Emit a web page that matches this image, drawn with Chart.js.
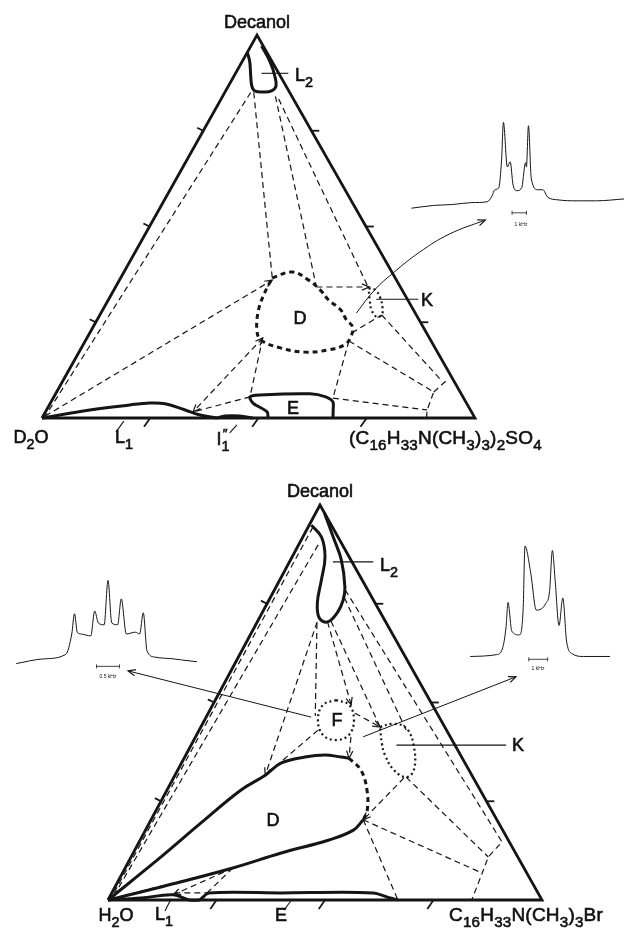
<!DOCTYPE html>
<html>
<head>
<meta charset="utf-8">
<script src="https://cdn.jsdelivr.net/npm/chart.js@4"></script>
<style>
  body { margin: 0; background: #fff; }
  #page { position: relative; width: 629px; height: 930px; overflow: hidden;
          font-family: "Liberation Sans", Arial, sans-serif; color: #111; }
  canvas { position: absolute; }
  .lbl { position: absolute; transform: translate(-50%, -50%); font-size: 18px; line-height: 1;
         white-space: nowrap; -webkit-text-stroke: 0.6px #111; }
  .lbl.start { transform: translate(0, -50%); }
  .lbl sub { font-size: 80%; vertical-align: -0.4em; }
  .lbl sup { font-size: 75%; vertical-align: 0.5em; }
  .formula { font-size: 19px; letter-spacing: 0.2px; }
  .tiny { font-size: 5px; -webkit-text-stroke: 0; }
</style>
</head>
<body>
<div id="page">
  <canvas id="so4-diagram"></canvas>
  <canvas id="so4-spectrum"></canvas>
  <canvas id="br-diagram"></canvas>
  <canvas id="br-spectrum-f"></canvas>
  <canvas id="br-spectrum-k"></canvas>

  <div class="lbl" style="left:257px;top:22px">Decanol</div>
  <div class="lbl start" style="left:295px;top:78px">L<sub>2</sub></div>
  <div class="lbl" style="left:427px;top:300px">K</div>
  <div class="lbl" style="left:300px;top:318px">D</div>
  <div class="lbl" style="left:293px;top:408px">E</div>
  <div class="lbl" style="left:31px;top:440px">D<sub>2</sub>O</div>
  <div class="lbl" style="left:124px;top:440px">L<sub>1</sub></div>
  <div class="lbl" style="left:222px;top:440px">I<sub>1</sub><sup style="margin-left:-7px">&Prime;</sup></div>
  <div class="lbl start formula" style="left:349px;top:440px">(C<sub>16</sub>H<sub>33</sub>N(CH<sub>3</sub>)<sub>3</sub>)<sub>2</sub>SO<sub>4</sub></div>
  <div class="lbl tiny" style="left:521px;top:224px">1 kHz</div>

  <div class="lbl" style="left:320px;top:491px">Decanol</div>
  <div class="lbl start" style="left:380px;top:568px">L<sub>2</sub></div>
  <div class="lbl" style="left:337px;top:720px">F</div>
  <div class="lbl" style="left:518px;top:745px">K</div>
  <div class="lbl" style="left:273px;top:820px">D</div>
  <div class="lbl" style="left:116px;top:918px">H<sub>2</sub>O</div>
  <div class="lbl" style="left:164px;top:917px">L<sub>1</sub></div>
  <div class="lbl" style="left:281px;top:915px">E</div>
  <div class="lbl start formula" style="left:449px;top:917px">C<sub>16</sub>H<sub>33</sub>N(CH<sub>3</sub>)<sub>3</sub>Br</div>
  <div class="lbl tiny" style="left:108px;top:676px">0.5 kHz</div>
  <div class="lbl tiny" style="left:538px;top:668px">1 kHz</div>
</div>

<script>
// compositions are [surfactant %, decanol %], water is the rest
const corners = [[0, 0], [100, 0], [0, 100], [0, 0]]
const tickValues = [25, 50, 75]

// --- D2O / (C16H33N(CH3)3)2SO4 / decanol
const so4L2 = [[0, 95.5], [1.8, 93], [3.7, 89.6], [5.4, 86.7], [6.7, 85.4], [9, 85.1], [10.6, 85.4], [11, 86.7], [9.2, 89.6], [6.5, 93], [2.5, 97.1]]
const so4L1 = [[0, 0], [10, 2.1], [18.6, 3.4], [23, 3.9], [26.6, 3.7], [32, 2.1], [36.1, 0.8], [40.4, 0]]
const so4I1 = [[40.4, 0], [42, 0.5], [45.4, 0.5], [48.7, 0]]
const so4E = [[52.2, 0], [51.2, 1.6], [46.8, 3.9], [45.3, 5.5], [47.3, 6], [58.8, 6.3], [62.8, 5.5], [65.1, 4.2], [66.2, 2.1], [67.2, 0]]
const so4D = [[35, 36.6], [38.9, 38.1], [43.7, 36], [47.7, 33.4], [50.9, 30.8], [55, 28.2], [57.6, 25.6], [59.9, 23.8], [60.8, 21.1], [60.4, 19.1], [57.4, 17.8], [52.1, 17.2], [46, 18.3], [40.4, 20.4], [38.2, 23], [36, 28.2], [35.2, 32.6], [35, 36.6]]
const so4K = [[58.6, 33.9], [60.4, 33.4], [62.6, 31.3], [64.4, 28.7], [65.1, 26.9], [64.2, 26.4], [62.1, 28.2], [60.4, 30.8], [58.6, 33.9]]
const so4Ties = [
  [[6, 85], [0.5, 0.5]],
  [[6.7, 85], [35, 36.6]],
  [[12.2, 84], [46.4, 34.2]],
  [[13.3, 83.3], [58.6, 33.9]],
  [[40.6, 20.9], [45.3, 5.5], [34.1, 1.6]],
  [[60.9, 20.1], [64.6, 5.2]],
  [[60.9, 20.1], [87.1, 6.8], [87.9, 2.1], [88.8, 0]],
  [[60.5, 22.2], [65.1, 26.9]],
  [[65.1, 26.9], [87.5, 9.7]],
  [[87.1, 6.8], [88.6, 9.9]],
  [[64.6, 5.2], [87.9, 2.1]]
]
const so4ArrowTies = [
  [[46.4, 34.2], [58.6, 34.2]],
  [[0.5, 0.5], [35.3, 36]]
]
const so4DoubleArrowTies = [
  [[40.6, 20.9], [34.1, 1.6]]
]
const so4Leaders = [
  [[6, 90], [12.2, 90]],
  [[61.8, 31], [71.5, 31]],
  [[18.9, -3.7], [19.3, -0.8]],
  [[45.3, -3.9], [45.9, -1.8]]
]
const so4SpecArrow = [[59, 27.4], [60.2, 33.4], [62.3, 37.9], [65.7, 43.3], [70.2, 48], [76.7, 51.7]]
const so4SpecKHz = [-7.27, -5.73, -4.4, -3.07, -2.0, -1.67, -1.47, -1.2, -1.0, -0.87, -0.6, -0.4, -0.2, 0.07, 0.4, 0.67, 0.73, 0.87, 1.07, 1.53, 1.87, 2.2, 2.93, 4.27, 5.6, 7.53]
const so4SpecInt = [0, 3.2, 4.3, 6.5, 7.5, 14, 21.5, 23.7, 56, 100, 48, 54, 27, 20.4, 23.7, 53, 48, 96, 34, 21.5, 21.5, 13, 9.7, 8.6, 8.6, 10.8]
const so4Bar = [-0.27, 0.73]   // 1 kHz

// --- H2O / C16H33N(CH3)3Br / decanol
const brL2 = [[0.5, 94.9], [4.3, 91.9], [7.6, 86.8], [9.6, 81], [11.5, 75.2], [13.8, 71.4], [16.2, 70.4], [17.3, 72.7], [17.1, 75.9], [15.9, 79.2], [11.7, 86.1], [7, 91.9], [2, 98]]
const brL1 = [[0, 0], [7.4, 0.5], [14.4, 1.3], [18.7, 0], [21.2, 0]]
const brE = [[21.2, 0], [22.4, 1.8], [39, 1.8], [60.2, 1.8], [64.8, 0.5], [66.8, 0]]
const brDUpper = [[0, 0], [6.9, 10.9], [11.9, 19.5], [17, 27.8], [20.8, 31.6], [23, 34.7], [27.7, 36.2], [32.1, 36.7], [36, 36.2], [38, 35.9]]
const brDRight = [[38, 35.9], [42.2, 32.9], [46.1, 27.8], [48.6, 22.8], [48.9, 20.3]]
const brDLower = [[48.9, 20.3], [47.9, 17.7], [43.5, 15.2], [34.1, 11.9], [24.8, 8.1], [10.6, 3.3], [0, 0]]
const brF = [[27.8, 50.6], [31.4, 49.4], [34.4, 45.6], [35.1, 41.8], [32.7, 40.5], [29.1, 41.8], [26.1, 45.6], [25.4, 49.4], [27.8, 50.6]]
const brK = [[41.3, 43.8], [43.9, 44.6], [47.5, 43.5], [51.6, 38.7], [54.4, 32.9], [53.5, 31.1], [49.8, 32.9], [45.9, 36.7], [43.7, 39.7], [41.3, 43.8]]
const brTies = [
  [[1.1, 94.4], [0.5, 0.3]],
  [[4.5, 89.9], [0.8, 0.3]],
  [[13.9, 70.1], [25, 46.6]],
  [[16.9, 70.6], [41.3, 43.8]],
  [[17.1, 76.5], [47.7, 43]],
  [[16.3, 78.5], [83.6, 14.7], [82.3, 10.9], [82.9, 6.8], [83.8, 0]],
  [[53.5, 31.1], [82.3, 10.9]],
  [[48.9, 20.3], [82.9, 6.8]],
  [[48.9, 20.3], [66.8, 0]],
  [[27.4, 43], [20.8, 31.6]],
  [[24.8, 8.1], [21.5, 0.8]],
  [[24.8, 8.1], [1.2, 0.5]],
  [[14.4, 1.8], [22.4, 1.8]]
]
const brArrowTies = [
  [[13.8, 70.4], [20.8, 31.6]],
  [[16.2, 70.4], [31.9, 49.4]],
  [[53.1, 30.9], [48.9, 20.3]],
  [[35.8, 41.3], [38, 35.9]],
  [[33.8, 47.3], [41.3, 43.8]],
  [[24.8, 8.1], [14.4, 1.3]]
]
const brLeaders = [
  [[10, 85.6], [19.3, 85.6]],
  [[47.3, 39.2], [72.6, 39.2]],
  [[14.5, -2.8], [14.4, 0.3]],
  [[41.8, -2.6], [42.3, 0]]
]
const brSpecArrows = [
  [[24.2, 46.3], [-23.7, 58]],
  [[38.6, 41.3], [66.4, 56.5]]
]
const brFSpecKHz = [-2.0, -1.42, -0.92, -0.79, -0.73, -0.67, -0.58, -0.375, -0.29, -0.21, -0.083, 0, 0.083, 0.21, 0.29, 0.4, 0.6, 0.69, 0.77, 0.85, 1.02, 1.44, 1.6, 1.94]
const brFSpecInt = [0, 5.6, 11.1, 35.6, 60, 37.8, 35.6, 33.3, 63.3, 48.9, 46.7, 100, 48.9, 46.7, 77.8, 35.6, 37.8, 35.6, 61.1, 15.6, 7.8, 5.6, 4.4, 2.2]
const brFBar = [-0.25, 0.25]   // 0.5 kHz
const brKSpecKHz = [-3.45, -2.05, -1.75, -1.55, -1.45, -1.25, -0.85, -0.65, -0.55, -0.25, 0.05, 0.55, 0.75, 0.9, 1.05, 1.25, 1.45, 1.65, 1.95, 2.55, 3.95]
const brKSpecInt = [0, 1.7, 6.8, 27, 49, 23, 19.5, 42, 100, 76, 42, 48, 59, 96, 68, 28, 53, 14, 2.5, 0, 0]
const brKBar = [-0.35, 0.65]   // 1 kHz

// layout (pixels on the page)
const so4Frame = { top: 0, height: 465, left: 42, right: 475, base: 418, apex: 35, apexX: 257 }
const brFrame = { top: 465, height: 465, left: 108, right: 542, base: 435, apex: 40, apexX: 320 }
const so4SpecFrame = { left: 400, top: 100, width: 229, height: 125, zeroX: 516, pxPerKHz: 15, baseY: 212, pxPerUnit: 0.93, barY: 217 }
const brFSpecFrame = { left: 0, top: 560, width: 215, height: 125, zeroX: 108, pxPerKHz: 48, baseY: 667, pxPerUnit: 0.9, barY: 670 }
const brKSpecFrame = { left: 455, top: 530, width: 174, height: 150, zeroX: 535, pxPerKHz: 20, baseY: 660, pxPerUnit: 1.18, barY: 663 }

const ink = '#151515'
const solid = { borderWidth: 3, tension: 0.4 }
const outline = { borderWidth: 2.8, tension: 0, borderJoinStyle: 'miter' }
const dashed = { borderWidth: 1.2, borderDash: [6, 4] }
const boldDash = { borderWidth: 3, borderDash: [5, 4], tension: 0.4 }
const dotted = { borderWidth: 2.2, borderDash: [2, 3], tension: 0.4 }
const thin = { borderWidth: 1.1 }

const arrowHeads = {
  id: 'arrowHeads',
  afterDatasetsDraw(chart) {
    const ctx = chart.ctx
    chart.data.datasets.forEach((ds, i) => {
      if (!ds.arrow) return
      const pts = chart.getDatasetMeta(i).data
      const ends = [[pts.length - 1, pts.length - 2]]
      if (ds.arrow === 'both') ends.push([0, 1])
      ends.forEach(([a, b]) => {
        const tip = pts[a], from = pts[b]
        const ang = Math.atan2(tip.y - from.y, tip.x - from.x)
        ctx.save()
        ctx.strokeStyle = ink
        ctx.lineWidth = 1.2
        ctx.beginPath()
        ctx.moveTo(tip.x - 8 * Math.cos(ang - 0.4), tip.y - 8 * Math.sin(ang - 0.4))
        ctx.lineTo(tip.x, tip.y)
        ctx.lineTo(tip.x - 8 * Math.cos(ang + 0.4), tip.y - 8 * Math.sin(ang + 0.4))
        ctx.stroke()
        ctx.restore()
      })
    })
  }
}

function edgeTicks() {
  const segs = []
  tickValues.forEach(t => {
    segs.push([[0, t], [-1.8, t + 0.8]])
    segs.push([[100 - t, t], [101.8 - t, t]])
    segs.push([[t, 0], [t - 0.3, -2.3]])
  })
  return segs
}

function makeDiagram(id, frame, layers) {
  const canvas = document.getElementById(id)
  canvas.width = 629
  canvas.height = frame.height
  canvas.style.left = '0px'
  canvas.style.top = frame.top + 'px'

  const unitX = (frame.right - frame.left) / 100
  const unitY = (frame.base - frame.apex) / 100
  const skew = (frame.apexX - frame.left) / (frame.right - frame.left)
  const toXY = pts => pts.map(([b, c]) => ({ x: b + c * skew, y: c }))

  const datasets = layers.map(([pts, style, arrow]) => Object.assign({
    data: toXY(pts),
    showLine: true,
    borderColor: ink,
    borderWidth: 1.2,
    pointRadius: 0,
    tension: 0,
    fill: false,
    arrow
  }, style))

  return new Chart(canvas, {
    type: 'scatter',
    data: { datasets },
    options: {
      responsive: false,
      animation: false,
      layout: { padding: 0 },
      plugins: { legend: { display: false }, tooltip: { enabled: false } },
      scales: {
        x: { type: 'linear', display: false, min: -frame.left / unitX, max: (629 - frame.left) / unitX },
        y: { type: 'linear', display: false, min: (frame.base - frame.height) / unitY, max: frame.base / unitY }
      }
    },
    plugins: [arrowHeads]
  })
}

function makeSpectrum(id, frame, kHz, intensity, bar) {
  const canvas = document.getElementById(id)
  canvas.width = frame.width
  canvas.height = frame.height
  canvas.style.left = frame.left + 'px'
  canvas.style.top = frame.top + 'px'
  const barLevel = (frame.baseY - frame.barY) / frame.pxPerUnit

  return new Chart(canvas, {
    type: 'scatter',
    data: {
      datasets: [
        {
          data: kHz.map((k, i) => ({ x: k, y: intensity[i] })),
          showLine: true,
          borderColor: ink,
          borderWidth: 1,
          pointRadius: 0,
          cubicInterpolationMode: 'monotone'
        },
        {
          data: bar.map(k => ({ x: k, y: barLevel })),
          showLine: true,
          borderColor: ink,
          borderWidth: 0.8,
          pointStyle: 'line',
          rotation: 90,
          pointRadius: 2,
          pointBorderWidth: 0.8,
          pointBorderColor: ink
        }
      ]
    },
    options: {
      responsive: false,
      animation: false,
      layout: { padding: 0 },
      plugins: { legend: { display: false }, tooltip: { enabled: false } },
      scales: {
        x: { type: 'linear', display: false,
             min: (frame.left - frame.zeroX) / frame.pxPerKHz,
             max: (frame.left + frame.width - frame.zeroX) / frame.pxPerKHz },
        y: { type: 'linear', display: false,
             min: (frame.baseY - frame.top - frame.height) / frame.pxPerUnit,
             max: (frame.baseY - frame.top) / frame.pxPerUnit }
      }
    }
  })
}

makeDiagram('so4-diagram', so4Frame, [
  [corners, outline],
  ...edgeTicks().map(s => [s, { borderWidth: 1.8 }]),
  [so4L2, solid],
  [so4L1, solid],
  [so4I1, solid],
  [so4E, Object.assign({}, solid, { tension: 0.3 })],
  [so4D, boldDash],
  [so4K, dotted],
  ...so4Ties.map(s => [s, dashed]),
  ...so4ArrowTies.map(s => [s, dashed, 'end']),
  ...so4DoubleArrowTies.map(s => [s, dashed, 'both']),
  ...so4Leaders.map(s => [s, thin]),
  [so4SpecArrow, { borderWidth: 1, tension: 0.4 }, 'end']
])

makeDiagram('br-diagram', brFrame, [
  [corners, outline],
  ...edgeTicks().map(s => [s, { borderWidth: 1.8 }]),
  [brL2, solid],
  [brL1, solid],
  [brE, Object.assign({}, solid, { tension: 0.3 })],
  [brDUpper, solid],
  [brDRight, boldDash],
  [brDLower, solid],
  [brF, dotted],
  [brK, dotted],
  ...brTies.map(s => [s, dashed]),
  ...brArrowTies.map(s => [s, dashed, 'end']),
  ...brLeaders.map(s => [s, thin]),
  ...brSpecArrows.map(s => [s, { borderWidth: 1 }, 'end'])
])

makeSpectrum('so4-spectrum', so4SpecFrame, so4SpecKHz, so4SpecInt, so4Bar)
makeSpectrum('br-spectrum-f', brFSpecFrame, brFSpecKHz, brFSpecInt, brFBar)
makeSpectrum('br-spectrum-k', brKSpecFrame, brKSpecKHz, brKSpecInt, brKBar)
</script>
</body>
</html>
